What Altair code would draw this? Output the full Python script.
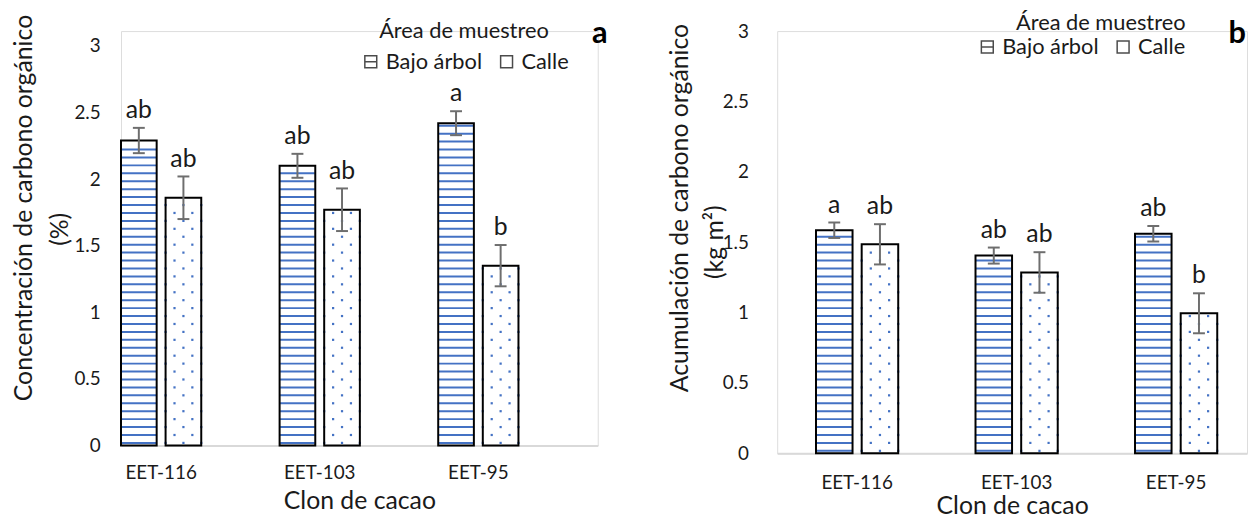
import altair as alt
import pandas as pd

# ---------------- data ----------------
clones = ["EET-116", "EET-103", "EET-95"]
groups = ["Bajo árbol", "Calle"]

conc_bajo = [2.29, 2.10, 2.42]
conc_bajo_err = [0.095, 0.09, 0.09]
conc_calle = [1.86, 1.77, 1.35]
conc_calle_err = [0.16, 0.16, 0.155]
conc_bajo_letters = ["ab", "ab", "a"]
conc_calle_letters = ["ab", "ab", "b"]

acc_bajo = [1.585, 1.405, 1.56]
acc_bajo_err = [0.055, 0.057, 0.055]
acc_calle = [1.485, 1.285, 0.995]
acc_calle_err = [0.143, 0.144, 0.142]
acc_bajo_letters = ["a", "ab", "ab"]
acc_calle_letters = ["ab", "ab", "b"]

y_ticks = [0, 0.5, 1, 1.5, 2, 2.5, 3]

FONT = "Lato"
BLUE = "#4472C4"
ERR = "#6e6e6e"
TXT = "#1a1a1a"
SUBCOLS = ["s%d" % i for i in range(10)]


def table(bajo, bajo_err, bajo_let, calle, calle_err, calle_let):
    rows = []
    for g, vals, errs, lets in ((groups[0], bajo, bajo_err, bajo_let),
                                (groups[1], calle, calle_err, calle_let)):
        for c, v, e, l in zip(clones, vals, errs, lets):
            rows.append({"clone": c, "group": g, "value": v,
                         "lower": v - e, "upper": v + e, "letter": l})
    return pd.DataFrame(rows)


def stripe_table(df, step, first):
    rows = []
    for _, r in df[df["group"] == groups[0]].iterrows():
        y = first
        while y < r["value"] - step * 0.2:
            rows.append({"clone": r["clone"], "group": r["group"], "y": y})
            y += step
    return pd.DataFrame(rows)


def dot_table(df, step, first):
    rows = []
    for _, r in df[df["group"] == groups[1]].iterrows():
        y = first
        k = 0
        while y < r["value"] - step * 0.3:
            cols = ["s5", "s7", "s9"] if k % 2 == 0 else ["s6", "s8"]
            for cc in cols:
                rows.append({"clone": r["clone"], "sub": cc, "y": y})
            y += step
            k += 1
    return pd.DataFrame(rows)


def panel(df, width, height, ymax, xsc, barw, ytitle1, ytitle2, ytitle_x, ytitle_y,
          y2_x, y2_y, ylabpad, xlabpad, xtitlepad, legend_kw, tag, tag_dx, tag_y):
    px_per_unit = height / ymax
    step = 8.0 / px_per_unit
    first = 2.5 / px_per_unit

    x_main = alt.X("clone:N", sort=clones, scale=alt.Scale(**xsc),
                   axis=alt.Axis(title="Clon de cacao", labelAngle=0, ticks=False,
                                 domain=True, domainColor="#d9d9d9", domainWidth=2,
                                 labelPadding=xlabpad, titlePadding=xtitlepad,
                                 labelFontSize=19, titleFontSize=25,
                                 labelColor=TXT, titleColor=TXT,
                                 titleFontWeight="normal", labelFont=FONT, titleFont=FONT))
    x_plain = alt.X("clone:N", sort=clones)
    xo = alt.XOffset("group:N", sort=groups,
                     scale=alt.Scale(type="band", domain=groups, paddingInner=0.2,
                                     paddingOuter=0))
    y_scale = alt.Scale(domain=[0, ymax], nice=False, zero=True)
    y_axis = alt.Axis(title=ytitle1, values=y_ticks, format="~g", grid=False, domain=False,
                      ticks=False, labelPadding=ylabpad, labelFontSize=19,
                      labelColor=TXT, titleColor=TXT,
                      titleFontSize=25, titleFontWeight="normal", titleAngle=270,
                      titleX=ytitle_x, titleY=ytitle_y, titleAlign="center",
                      titleBaseline="alphabetic", labelFont=FONT, titleFont=FONT)

    base = alt.Chart(df)
    bars_fill = base.mark_bar(fill="white", strokeWidth=0).encode(
        x=x_main, xOffset=xo, y=alt.Y("value:Q", scale=y_scale, axis=y_axis))

    stripes = alt.Chart(stripe_table(df, step, first)).mark_tick(
        color=BLUE, thickness=2, size=barw, opacity=1).encode(
        x=x_plain, xOffset=xo, y=alt.Y("y:Q"))

    dots = alt.Chart(dot_table(df, step, first)).mark_square(
        color=BLUE, size=5, opacity=1).encode(
        x=x_plain,
        xOffset=alt.XOffset("sub:N", sort=SUBCOLS,
                            scale=alt.Scale(type="point", domain=SUBCOLS, padding=0)),
        y=alt.Y("y:Q"))

    outline = base.mark_bar(fillOpacity=0, stroke="black", strokeWidth=2).encode(
        x=x_plain, xOffset=xo, y=alt.Y("value:Q"))

    err_rule = base.mark_rule(color=ERR, strokeWidth=2).encode(
        x=x_plain, xOffset=xo, y=alt.Y("lower:Q"), y2="upper:Q")
    cap_hi = base.mark_tick(color=ERR, thickness=2, size=12, opacity=1).encode(
        x=x_plain, xOffset=xo, y=alt.Y("upper:Q"))
    cap_lo = base.mark_tick(color=ERR, thickness=2, size=12, opacity=1).encode(
        x=x_plain, xOffset=xo, y=alt.Y("lower:Q"))

    letters = base.mark_text(baseline="alphabetic", dy=-10, fontSize=25, font=FONT,
                             color=TXT).encode(
        x=x_plain, xOffset=xo, y=alt.Y("upper:Q"), text="letter:N")

    leg = alt.Legend(orient="none", direction="horizontal", title="Área de muestreo",
                     titleFontSize=22, titleFontWeight="normal", titleFont=FONT,
                     labelFont=FONT, labelFontSize=22, titleColor=TXT,
                     labelColor=TXT, symbolSize=144, symbolStrokeWidth=1.5,
                     labelOffset=4, columnPadding=13, padding=0, **legend_kw)
    legend_layer = alt.Chart(pd.DataFrame({"group": pd.Series([], dtype=str)})).mark_point(
        filled=False, size=144, strokeWidth=1.5).encode(
        color=alt.Color("group:N", scale=alt.Scale(domain=groups, range=["black", "black"]),
                        legend=leg),
        shape=alt.Shape("group:N", scale=alt.Scale(
            domain=groups, range=["M-1,-1H1V1H-1ZM-1,0H1", "square"]), legend=leg))

    tag_layer = alt.Chart(pd.DataFrame({"tag": [tag]})).mark_text(
        align="right", baseline="alphabetic", fontSize=31, fontWeight="bold",
        font=FONT, color="black").encode(
        x=alt.value(width + tag_dx), y=alt.value(tag_y), text="tag:N")

    # second line of the (wrapped) y-axis title, as in the original figure
    title2_layer = alt.Chart(pd.DataFrame({"t": [ytitle2]})).mark_text(
        align="center", baseline="alphabetic", angle=270, fontSize=25,
        font=FONT, color=TXT).encode(
        x=alt.value(y2_x), y=alt.value(y2_y), text="t:N")

    layered = alt.layer(bars_fill, stripes, dots, outline, err_rule, cap_hi, cap_lo,
                        letters, legend_layer, tag_layer, title2_layer
                        ).resolve_scale(xOffset="independent")
    return layered.properties(width=width, height=height)


df_a = table(conc_bajo, conc_bajo_err, conc_bajo_letters,
             conc_calle, conc_calle_err, conc_calle_letters)
df_b = table(acc_bajo, acc_bajo_err, acc_bajo_letters,
             acc_calle, acc_calle_err, acc_calle_letters)

xsc_a = {"paddingInner": 0.494, "paddingOuter": 0.25, "align": 0.0}
xsc_b = {"paddingInner": 0.4845, "paddingOuter": 0.215, "align": 0.566}

pa = panel(df_a, 481, 418, 3.112, xsc_a, 35,
           "Concentración de carbono orgánico", "(%)",
           -90, 178, -53, 200, 21, 18, 7,
           dict(legendX=241, legendY=-10, titleAnchor="middle", titlePadding=8),
           "a", 10, 12)
pb = panel(df_b, 474, 426, 3.0, xsc_b, 36,
           "Acumulación de carbono orgánico", "(kg m²)",
           -90, 178, -55, 213, 29, 20, 2,
           dict(legendX=201, legendY=-18, titleAnchor="end", titlePadding=1),
           "b", -1, 12)

chart = alt.hconcat(pa, pb, spacing=59).resolve_scale(
    x="independent", y="independent", color="independent", shape="independent"
).properties(
    padding={"left": 3, "top": 2, "right": 0, "bottom": 0}
).configure_view(stroke=None).configure(font=FONT)

chart.save("out.html", embed_options={"renderer": "svg", "actions": False})
